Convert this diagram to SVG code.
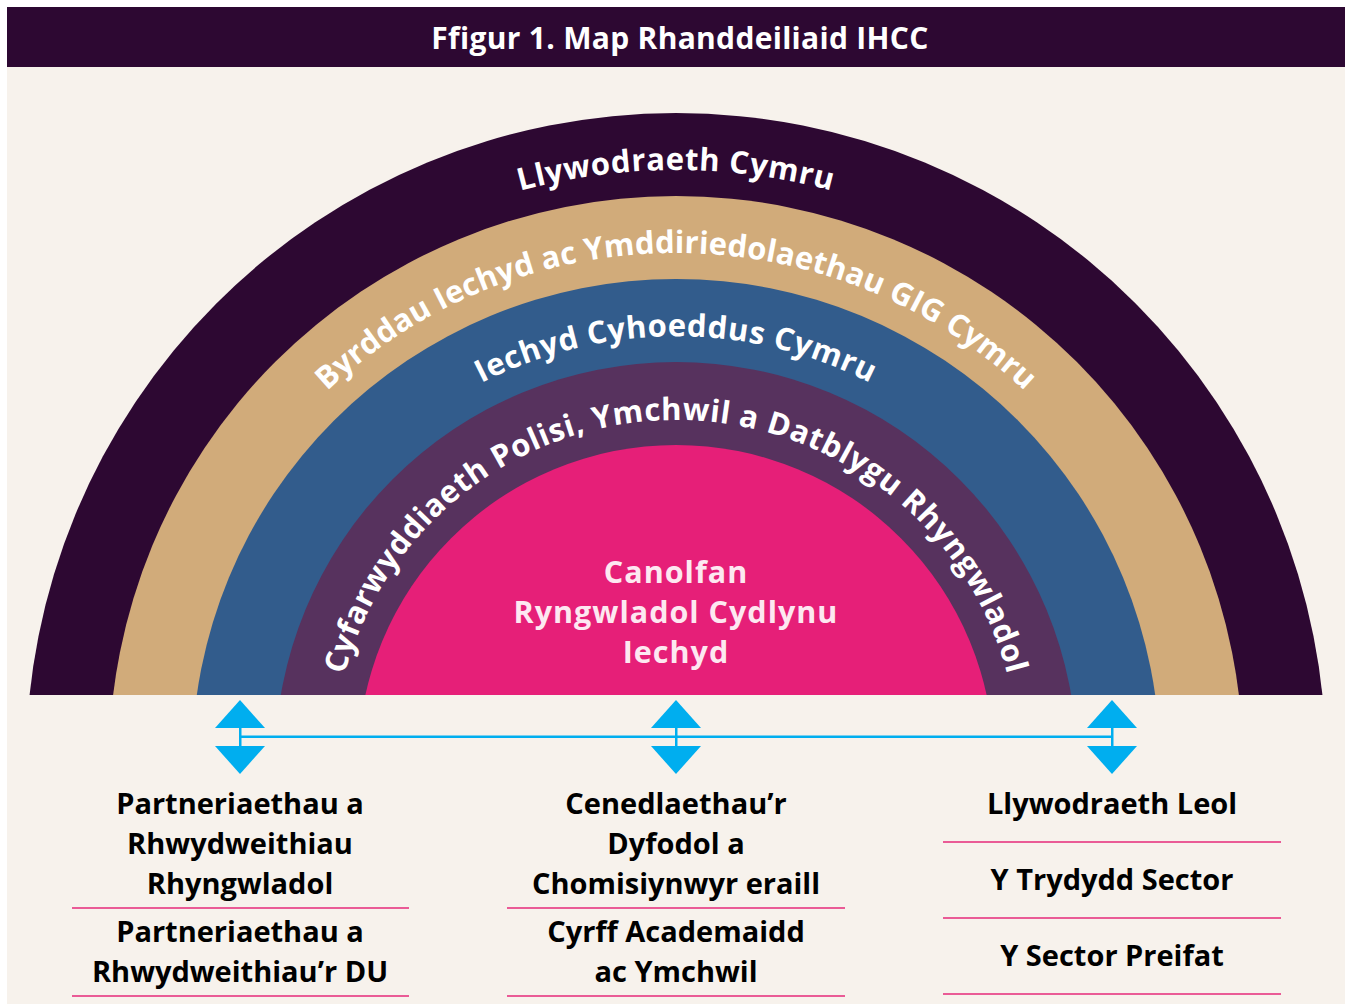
<svg xmlns="http://www.w3.org/2000/svg" width="1351" height="1004" viewBox="0 0 1351 1004">
<style>
.t{font-family:"Open Sans","Noto Sans","Liberation Sans",sans-serif;font-weight:700}
.arc{fill:#ffffff;font-size:31px;letter-spacing:0.6px}
.ctr{fill:#fde8f1;font-size:30.5px;letter-spacing:1px;text-anchor:middle}
.lbl{fill:#000000;font-size:29px;text-anchor:middle}
.sep{stroke:#ea5b96;stroke-width:2}
.blue{fill:#00aeef}
</style>
<defs>
<clipPath id="clip"><rect x="0" y="0" width="1351" height="695"/></clipPath>
<path id="p1" d="M 83 763 A 593 593 0 0 1 1269 763"/>
<path id="p2" d="M 166 763 A 510 510 0 0 1 1186 763"/>
<path id="p3" d="M 249 763 A 427 427 0 0 1 1103 763"/>
<path id="p4" d="M 333 763 A 343 343 0 0 1 1019 763"/>
</defs>
<rect x="0" y="0" width="1351" height="1004" fill="#ffffff"/>
<rect x="7" y="67" width="1338" height="937" fill="#f7f2ec"/>
<g id="title">
<rect x="7" y="7" width="1338" height="60" fill="#2d0832"/>
<text class="t" x="680" y="49" fill="#ffffff" font-size="30" letter-spacing="0.3" text-anchor="middle">Ffigur 1. Map Rhanddeiliaid IHCC</text>
</g>
<g clip-path="url(#clip)">
<g id="band-llywodraeth"><circle cx="676" cy="763" r="650" fill="#2d0832"/></g>
<g id="band-byrddau"><circle cx="676" cy="763" r="567" fill="#d1ab7a"/></g>
<g id="band-iechyd"><circle cx="676" cy="763" r="484" fill="#325c8c"/></g>
<g id="band-cyfarwyddiaeth"><circle cx="676" cy="763" r="401" fill="#57325e"/></g>
<g id="band-canolfan"><circle cx="676" cy="763" r="318" fill="#e61f78"/></g>
</g>
<text class="t arc"><textPath href="#p1" startOffset="50%" text-anchor="middle">Llywodraeth Cymru</textPath></text>
<text class="t arc" style="letter-spacing:0.1px"><textPath href="#p2" startOffset="50%" text-anchor="middle">Byrddau Iechyd ac Ymddiriedolaethau GIG Cymru</textPath></text>
<text class="t arc"><textPath href="#p3" startOffset="50%" text-anchor="middle">Iechyd Cyhoeddus Cymru</textPath></text>
<text class="t arc"><textPath href="#p4" startOffset="50%" text-anchor="middle">Cyfarwyddiaeth Polisi, Ymchwil a Datblygu Rhyngwladol</textPath></text>
<g id="canolfan-label">
<text class="t ctr" x="676" y="583">Canolfan</text>
<text class="t ctr" x="676" y="623">Ryngwladol Cydlynu</text>
<text class="t ctr" x="676" y="663">Iechyd</text>
</g>
<g id="connectors">
<rect x="240" y="735.5" width="872" height="2.5" class="blue"/>
<rect x="239" y="727" width="2.5" height="20" class="blue"/>
<rect x="675" y="727" width="2.5" height="20" class="blue"/>
<rect x="1111" y="727" width="2.5" height="20" class="blue"/>
<polygon class="blue" points="240,700 265,728 215,728"/>
<polygon class="blue" points="240,774 265,746 215,746"/>
<polygon class="blue" points="676,700 701,728 651,728"/>
<polygon class="blue" points="676,774 701,746 651,746"/>
<polygon class="blue" points="1112,700 1137,728 1087,728"/>
<polygon class="blue" points="1112,774 1137,746 1087,746"/>
</g>
<g id="col-left">
<text class="t lbl" x="240" y="814">Partneriaethau a</text>
<text class="t lbl" x="240" y="854">Rhwydweithiau</text>
<text class="t lbl" x="240" y="894">Rhyngwladol</text>
<line class="sep" x1="72" y1="908" x2="409" y2="908"/>
<text class="t lbl" x="240" y="942">Partneriaethau a</text>
<text class="t lbl" x="240" y="982">Rhwydweithiau’r DU</text>
<line class="sep" x1="72" y1="996" x2="409" y2="996"/>
</g>
<g id="col-centre">
<text class="t lbl" x="676" y="814">Cenedlaethau’r</text>
<text class="t lbl" x="676" y="854">Dyfodol a</text>
<text class="t lbl" x="676" y="894">Chomisiynwyr eraill</text>
<line class="sep" x1="507" y1="908" x2="845" y2="908"/>
<text class="t lbl" x="676" y="942">Cyrff Academaidd</text>
<text class="t lbl" x="676" y="982">ac Ymchwil</text>
<line class="sep" x1="507" y1="996" x2="845" y2="996"/>
</g>
<g id="col-right">
<text class="t lbl" x="1112" y="814">Llywodraeth Leol</text>
<line class="sep" x1="943" y1="842" x2="1281" y2="842"/>
<text class="t lbl" x="1112" y="890">Y Trydydd Sector</text>
<line class="sep" x1="943" y1="918" x2="1281" y2="918"/>
<text class="t lbl" x="1112" y="966">Y Sector Preifat</text>
<line class="sep" x1="943" y1="994" x2="1281" y2="994"/>
</g>
</svg>
